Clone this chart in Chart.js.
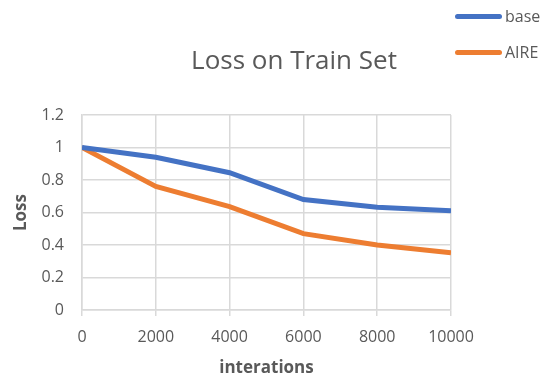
<!DOCTYPE html>
<html>
<head>
<meta charset="utf-8">
<script src="https://cdn.jsdelivr.net/npm/chart.js@4/dist/chart.umd.min.js"></script>
<style>
  html, body { margin: 0; padding: 0; background: #fff; }
  #wrap { position: relative; width: 550px; height: 386px; }
  #title { position: absolute; left: 0; width: 588px; top: 41px; text-align: center; font-family: 'Open Sans', sans-serif; font-size: 26px; color: #595959; }
  #legend { position: absolute; left: 455px; top: -2px; font-family: 'Open Sans', sans-serif; font-size: 16px; color: #595959; }
  .item { display: flex; align-items: center; height: 36px; }
  .swatch { width: 47px; height: 5px; border-radius: 3px; margin-right: 3px; }
</style>
</head>
<body>
<div id="wrap">
  <canvas id="c" width="550" height="386"></canvas>
  <div id="title">Loss on Train Set</div>
  <div id="legend"></div>
</div>
<script>
const iterations = [0, 2000, 4000, 6000, 8000, 10000];
const baseLoss = [1.0, 0.94, 0.845, 0.68, 0.632, 0.611];
const aireLoss = [1.0, 0.76, 0.636, 0.47, 0.40, 0.352];
const yTicks = [0, 0.2, 0.4, 0.6, 0.8, 1, 1.2];

const textColor = '#595959';
const gridColor = '#d9d9d9';
const fontFamily = "'Open Sans', sans-serif";

const series = [
  { label: 'base', data: baseLoss, color: '#4472c4' },
  { label: 'AIRE', data: aireLoss, color: '#ed7d31' },
];

// legend drawn as html, top right like the original
const legend = document.getElementById('legend');
series.forEach(s => {
  const row = document.createElement('div');
  row.className = 'item';
  row.innerHTML = '<span class="swatch" style="background:' + s.color + '"></span>' + s.label;
  legend.appendChild(row);
});

new Chart(document.getElementById('c'), {
  type: 'line',
  data: {
    datasets: series.map(s => ({
      label: s.label,
      data: iterations.map((x, i) => ({ x, y: s.data[i] })),
      borderColor: s.color,
      backgroundColor: s.color,
      borderWidth: 5,
      pointRadius: 0,
      tension: 0,
    })),
  },
  options: {
    responsive: false,
    animation: false,
    layout: { padding: { left: 0, right: 99, top: 115, bottom: 0 } },
    plugins: {
      legend: { display: false },
      tooltip: { enabled: false },
    },
    scales: {
      x: {
        type: 'linear',
        min: 0,
        max: 10000,
        afterBuildTicks: axis => { axis.ticks = iterations.map(v => ({ value: v })); },
        ticks: { color: textColor, font: { family: fontFamily, size: 16 }, padding: 12, maxRotation: 0, callback: v => String(v) },
        grid: { color: gridColor, lineWidth: 1.5, tickLength: 6 },
        border: { color: gridColor, width: 1.5 },
        title: { display: true, text: 'interations', color: textColor, font: { family: fontFamily, size: 17, weight: 'bold' }, padding: { top: 4, bottom: 8 } },
        afterFit: axis => { axis.height = 76; },
      },
      y: {
        min: 0,
        max: 1.2,
        afterBuildTicks: axis => { axis.ticks = yTicks.map(v => ({ value: v })); },
        ticks: { color: textColor, font: { family: fontFamily, size: 16 }, padding: 18, callback: v => String(v) },
        grid: { color: gridColor, lineWidth: 1.5, drawTicks: false },
        border: { color: gridColor, width: 1.5 },
        title: { display: true, text: 'Loss', color: textColor, font: { family: fontFamily, size: 17, weight: 'bold' }, padding: { top: 11, bottom: 0 } },
        afterFit: axis => { axis.width = 82; },
      },
    },
  },
});
</script>
</body>
</html>
